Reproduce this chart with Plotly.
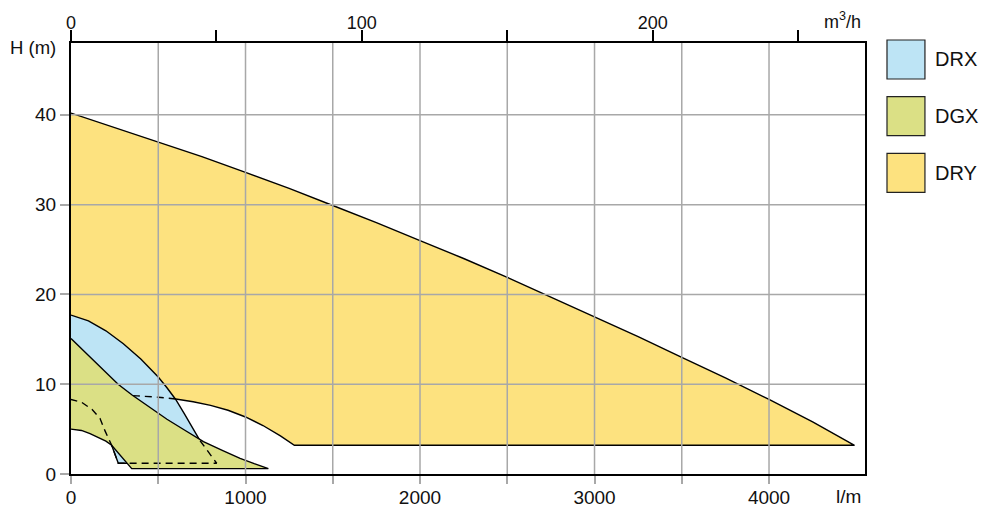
import plotly.graph_objects as go

# ---------------- data ----------------
series = ["DRX", "DGX", "DRY"]
colors = {"DRX": "#BDE4F5", "DGX": "#DBE085", "DRY": "#FDE27F"}

# DRY envelope (flow l/min, head m)
dry_top_q = [0, 250, 500, 750, 1000, 1250, 1500, 1750, 2000, 2250, 2500,
             2750, 3000, 3250, 3500, 3750, 4000, 4250, 4490]
dry_top_h = [40.2, 38.6, 37.0, 35.35, 33.6, 31.8, 29.9, 28.0, 26.0, 24.0,
             21.9, 19.7, 17.5, 15.3, 13.0, 10.7, 8.3, 5.8, 3.2]
dry_bot_q = [4490, 1280, 1200, 1100, 1000, 900, 800, 700, 600, 500, 380, 0]
dry_bot_h = [3.2, 3.2, 4.25, 5.4, 6.35, 7.1, 7.65, 8.05, 8.35, 8.55, 8.7, 9.0]

# DRX envelope
drx_top_q = [0, 100, 200, 300, 400, 500, 550, 600, 650, 700, 740, 785, 835]
drx_top_h = [17.7, 17.05, 15.95, 14.5, 12.8, 10.8, 9.6, 8.3, 6.7, 5.0, 3.7, 2.5, 1.2]
drx_bot_q = [835, 271, 233, 195, 166, 120, 60, 0]
drx_bot_h = [1.2, 1.2, 3.2, 4.8, 6.2, 7.2, 8.0, 8.3]

# DGX envelope
dgx_top_q = [0, 100, 200, 270, 350, 450, 550, 650, 759, 870, 969, 1050, 1131]
dgx_top_h = [15.1, 13.2, 11.3, 10.0, 8.8, 7.4, 6.1, 4.9, 3.6, 2.6, 1.75, 1.15, 0.6]
dgx_bot_q = [1131, 348, 233, 200, 166, 109, 60, 0]
dgx_bot_h = [0.6, 0.6, 3.2, 3.65, 4.0, 4.5, 4.85, 5.0]

x_ticks = [0, 1000, 2000, 3000, 4000]
x_labels = ["0", "1000", "2000", "3000", "4000"]
x_minor = [500, 1500, 2500, 3500]
y_ticks = [0, 10, 20, 30, 40]
y_labels = ["0", "10", "20", "30", "40"]
m3h_ticks = [0, 100, 200]
m3h_labels = ["0", "100", "200"]
m3h_minor = [50, 150, 250]
grid_q = [500, 1000, 1500, 2000, 2500, 3000, 3500, 4000]
grid_h = [10, 20, 30, 40]

Q_MAX = 4550
H_MAX = 48
LPM_TO_M3H = 0.06

FONT = "Liberation Sans, Arial, sans-serif"
TXT = "#111111"
LINE = dict(color="black", width=1.4)
DASH = dict(color="black", width=1.4, dash="7px,5px")

fig = go.Figure()


def poly(name, tq, th, bq, bh):
    fig.add_trace(go.Scatter(
        x=tq + bq, y=th + bh, mode="lines", fill="toself",
        fillcolor=colors[name], line=LINE, name=name,
        showlegend=False, hoverinfo="name"))


# DRY bottom layer
poly("DRY", dry_top_q, dry_top_h, dry_bot_q, dry_bot_h)
# DRX
poly("DRX", drx_top_q, drx_top_h, drx_bot_q, drx_bot_h)
# hidden DRY edge under DRX (dashed)
dq = [q for q in dry_bot_q if q <= 600]
dh = [h for q, h in zip(dry_bot_q, dry_bot_h) if q <= 600]
fig.add_trace(go.Scatter(x=dq, y=dh, mode="lines", line=DASH,
                         showlegend=False, hoverinfo="skip"))
# DGX on top
poly("DGX", dgx_top_q, dgx_top_h, dgx_bot_q, dgx_bot_h)
# hidden DRX edges under DGX (dashed)
hq = [q for q in drx_top_q if q >= 740] + drx_bot_q
hh = [h for q, h in zip(drx_top_q, drx_top_h) if q >= 740] + drx_bot_h
fig.add_trace(go.Scatter(x=hq, y=hh, mode="lines", line=DASH,
                         showlegend=False, hoverinfo="skip"))

# invisible trace to activate top axis
fig.add_trace(go.Scatter(x=[0, Q_MAX * LPM_TO_M3H], y=[0, 0], xaxis="x2",
                         mode="lines", line=dict(width=0), opacity=0,
                         showlegend=False, hoverinfo="skip"))

# grid lines above the fills
GRID = dict(color="#A8A8A8", width=1.5)
for q in grid_q:
    fig.add_shape(type="line", xref="x", yref="paper", x0=q, x1=q, y0=0, y1=1,
                  line=GRID, layer="above")
for h in grid_h:
    fig.add_shape(type="line", xref="paper", yref="y", x0=0, x1=1, y0=h, y1=h,
                  line=GRID, layer="above")

# legend boxes
box_w = 0.0478
box_h = 0.0905
step = 0.1315
for i, name in enumerate(series):
    y1 = 1.007 - i * step
    fig.add_shape(type="rect", xref="paper", yref="paper",
                  x0=1.0277, x1=1.0277 + box_w, y0=y1 - box_h, y1=y1,
                  fillcolor=colors[name], line=dict(color="#222", width=1.2),
                  layer="above")
    fig.add_annotation(xref="paper", yref="paper", x=1.086, y=y1 - box_h / 2,
                       text=name, showarrow=False, xanchor="left",
                       yanchor="middle", font=dict(size=20, color=TXT,
                                                   family=FONT))

fig.add_annotation(xref="paper", yref="paper", x=-0.0479, y=0.9907,
                   text="H (m)", showarrow=False, xanchor="center",
                   yanchor="middle", font=dict(size=18.5, color=TXT, family=FONT))
fig.add_annotation(xref="paper", yref="paper", x=0.9975, y=1.053,
                   text="m<sup>3</sup>/h", showarrow=False, xanchor="right",
                   yanchor="middle", font=dict(size=18, color=TXT, family=FONT))
fig.add_annotation(xref="paper", yref="paper", x=0.9975, y=-0.053,
                   text="l/m", showarrow=False, xanchor="right",
                   yanchor="middle", font=dict(size=19, color=TXT, family=FONT))

fig.update_layout(
    width=986, height=508, autosize=False,
    margin=dict(l=71, r=121, t=43, b=34, pad=0),
    plot_bgcolor="white", paper_bgcolor="white",
    font=dict(family=FONT, size=19, color=TXT),
    xaxis=dict(range=[0, Q_MAX], tickvals=x_ticks, ticktext=x_labels,
               showgrid=False, zeroline=False, showline=True, mirror=True,
               linecolor="black", linewidth=2, ticks="outside", ticklen=8,
               tickwidth=1.5, tickcolor="#A8A8A8", tickfont=dict(size=19),
               minor=dict(tickvals=x_minor, ticks="outside", ticklen=8,
                          tickwidth=1.5, tickcolor="#A8A8A8", showgrid=False),
               ticklabelstandoff=-3, automargin=False),
    xaxis2=dict(range=[0, Q_MAX * LPM_TO_M3H], overlaying="x", side="top",
                tickvals=m3h_ticks, ticktext=m3h_labels, showgrid=False,
                zeroline=False, showline=True, linecolor="black", linewidth=2,
                ticks="outside", ticklen=11, tickwidth=1.5, tickcolor="black",
                minor=dict(tickvals=m3h_minor, ticks="outside", ticklen=11,
                           tickwidth=1.5, tickcolor="black", showgrid=False),
                tickfont=dict(size=18), ticklabelstandoff=-6, automargin=False),
    yaxis=dict(range=[0, H_MAX], tickvals=y_ticks, ticktext=y_labels,
               showgrid=False, zeroline=False, showline=True, mirror=True,
               linecolor="black", linewidth=2, ticks="outside", ticklen=9,
               tickwidth=1.5, tickcolor="#A8A8A8", tickfont=dict(size=19),
               automargin=False),
)

fig.write_html("out.html", config={"displayModeBar": False},
               post_script="document.body.style.margin='0';")
